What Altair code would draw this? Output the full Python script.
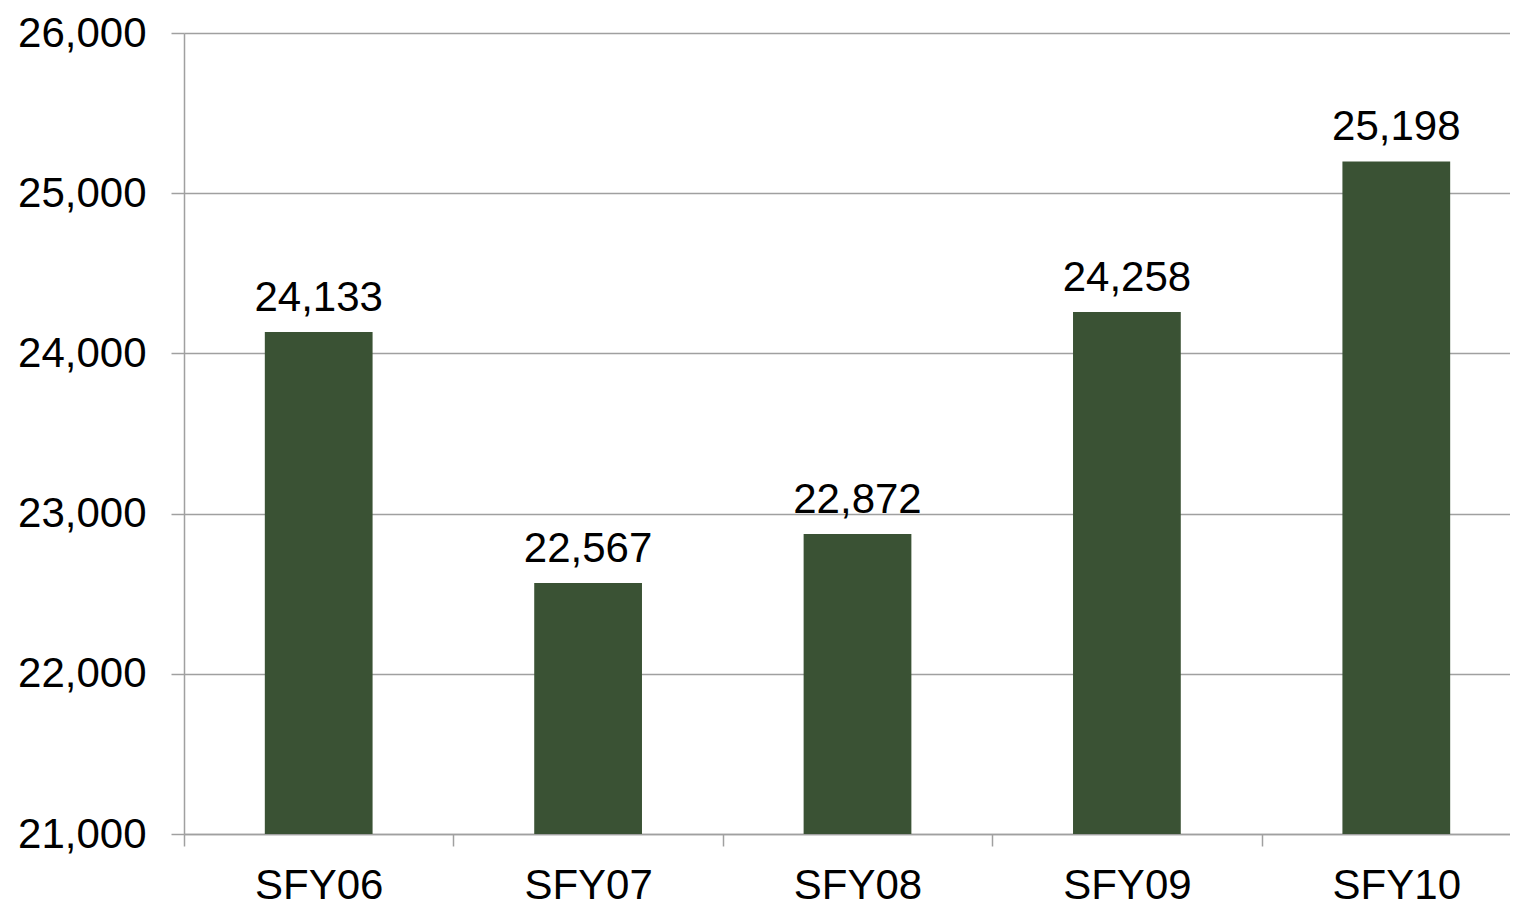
import altair as alt
import pandas as pd

categories = ["SFY06", "SFY07", "SFY08", "SFY09", "SFY10"]
values = [24133, 22567, 22872, 24258, 25198]
y_ticks = [21000, 22000, 23000, 24000, 25000, 26000]
y_min, y_max = 21000, 26000

df = pd.DataFrame({"year": categories, "value": values})

FONT = "Liberation Sans"
GRID = "#A0A0A0"
BAR = "#3A5234"

x = alt.X(
    "year:N", sort=categories, title=None,
    scale=alt.Scale(paddingInner=0, paddingOuter=0),
    axis=alt.Axis(labelAngle=0, tickBand="extent", ticks=True, tickSize=12,
                  tickColor=GRID, tickWidth=1.5, domainColor=GRID, domainWidth=1.5,
                  labelFont=FONT, labelFontSize=42, labelColor="black",
                  labelPadding=19, grid=False),
)
y = alt.Y(
    "value:Q", title=None,
    scale=alt.Scale(domain=[y_min, y_max], zero=False, nice=False),
    axis=alt.Axis(values=y_ticks, format=",d", tickSize=13, tickColor=GRID,
                  tickWidth=1.5, domainColor=GRID, domainWidth=1.5,
                  gridColor=GRID, gridWidth=1.5, grid=True,
                  labelFont=FONT, labelFontSize=42, labelColor="black",
                  labelPadding=25),
)

bars = alt.Chart(df).mark_bar(color=BAR, width=alt.RelativeBandSize(0.4)).encode(
    x=x, y=y, y2=alt.Y2Datum(y_min)
)
labels = alt.Chart(df).mark_text(
    baseline="alphabetic", dy=-21, font=FONT, fontSize=42, color="black"
).encode(x=x, y=y, text=alt.Text("value:Q", format=","))

chart = (
    alt.layer(bars, labels)
    .properties(
        width=1347, height=801,
        autosize=alt.AutoSizeParams(type="none"),
        padding={"left": 176, "top": 25, "right": -21, "bottom": 72},
    )
    .configure_view(stroke=None)
)

chart.save("out.html", embed_options={"renderer": "svg", "actions": False})
